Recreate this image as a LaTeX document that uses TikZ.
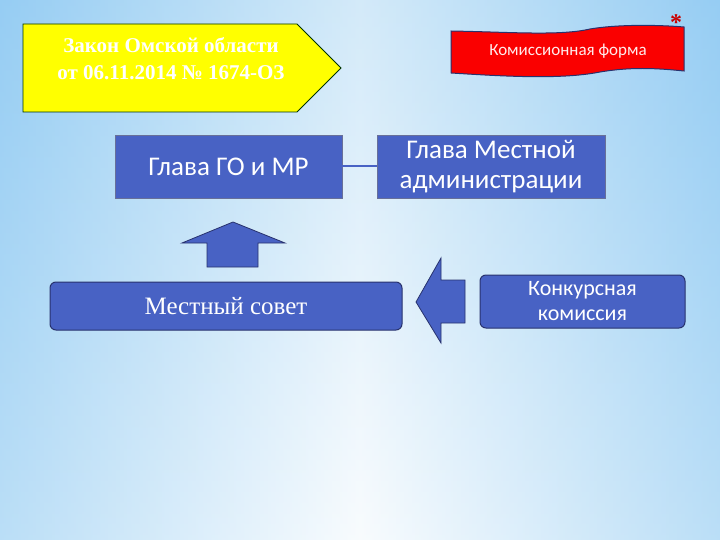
\documentclass[tikz,border=0pt]{standalone}
\usepackage{fontspec}
\setmainfont{Liberation Serif}
\newfontfamily\boxsans{Carlito}
\definecolor{bgedge}{RGB}{150,205,243}
\definecolor{bgmid}{RGB}{245,250,253}
\definecolor{boxblue}{RGB}{72,98,196}
\definecolor{boxline}{RGB}{40,50,110}
\definecolor{banner}{RGB}{250,0,0}
\definecolor{yel}{RGB}{255,255,0}
\tikzset{
  bluebox/.style={draw=boxline!70, line width=0.6pt, fill=boxblue, text=white, align=center, inner sep=0pt},
  roundbox/.style={bluebox, draw=boxline, line width=1pt, rounded corners=6pt},
  bigarrow/.style={draw=boxline, line width=0.8pt, fill=boxblue, line join=miter},
  link/.style={draw=boxblue, line width=2pt}
}
\begin{document}
\begin{tikzpicture}[x=1pt,y=-1pt]
\useasboundingbox (0,0) rectangle (720,540);
% background
\shade[left color=bgedge, right color=bgedge, middle color=bgmid] (0,0) rectangle (720,540);
\shade[top color=bgedge, bottom color=white, opacity=0.35] (0,0) rectangle (720,540);
% yellow pentagon
\draw[draw=black!80!green, line width=0.8pt, fill=yel] (23,24) -- (297,24) -- (341,68) -- (297,112) -- (23,112) -- cycle;
\node[text=white, font=\bfseries\fontsize{21}{27}\selectfont, align=center] (law) at (171,59) {Закон Омской области\\от 06.11.2014 № 1674-ОЗ};
% red banner
\draw[draw=boxline, line width=1pt, fill=banner]
  (451,31) .. controls (510,32) and (560,36) .. (590,29)
  .. controls (620,24) and (660,25) .. (684,27)
  -- (684,71)
  .. controls (655,68) and (630,67) .. (600,72)
  .. controls (560,80) and (500,76) .. (451,73) -- cycle;
\node[text=white!92!red, font=\boxsans\fontsize{17}{20}\selectfont] (form) at (568,51) {Комиссионная форма};
\node[text=banner!80!black, font=\bfseries\fontsize{24}{24}\selectfont] (star) at (676,23) {*};
% boxes
\node[bluebox, minimum width=227pt, minimum height=63pt, font=\boxsans\fontsize{27}{30}\selectfont] (head) at (228.5,166.5) {Глава ГО и МР};
\node[bluebox, minimum width=228pt, minimum height=63pt, font=\boxsans\fontsize{27}{30}\selectfont] (admin) at (491,166.5) {Глава Местной\\администрации};
\draw[link] (head.east) -- (admin.west);
\node[roundbox, minimum width=352pt, minimum height=48pt, font=\fontsize{25}{28}\selectfont] (council) at (226,306) {Местный совет};
\node[roundbox, minimum width=205pt, minimum height=53pt, font=\boxsans\fontsize{22}{25}\selectfont] (comm) at (582.5,301.5) {Конкурсная\\комиссия};
% arrows
\draw[bigarrow] (207,267) -- (207,243) -- (182,243) -- (233,222) -- (285,243) -- (258,243) -- (258,267) -- cycle;
\draw[bigarrow] (465,280) -- (441,280) -- (441,258) -- (416,302) -- (441,343) -- (441,323) -- (465,323) -- cycle;
\end{tikzpicture}
\end{document}
